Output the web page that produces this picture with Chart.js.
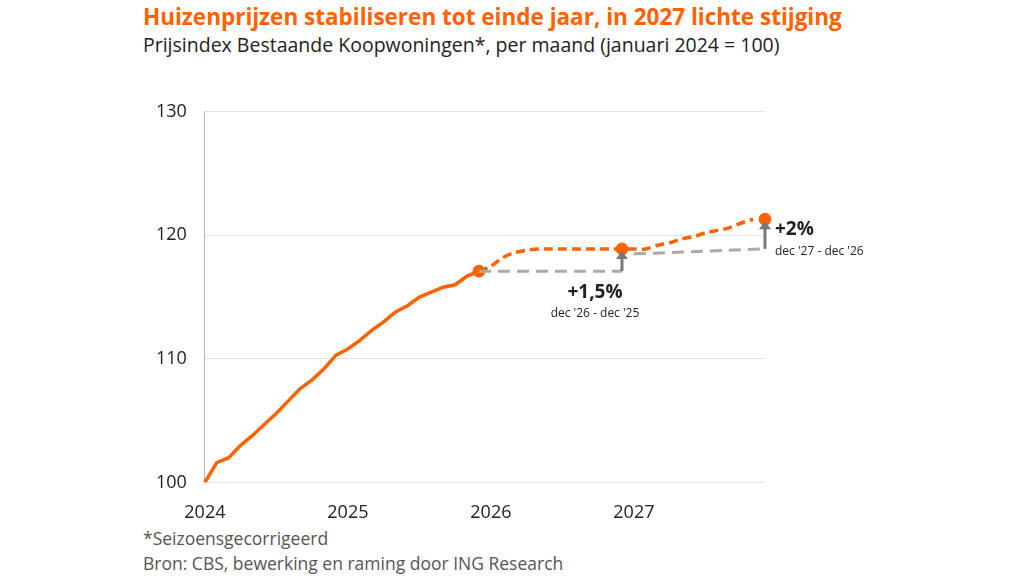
<!DOCTYPE html><html><head><meta charset="utf-8">
<script src="https://cdn.jsdelivr.net/npm/chart.js@4"></script>
<style>
body{margin:0;width:1024px;height:576px;background:#fff;font-family:"Open Sans",sans-serif;position:relative;overflow:hidden}
#t{position:absolute;left:143px;top:1px;color:#ff6200;font-weight:bold;font-size:22.5px}
#s{position:absolute;left:143px;top:31px;color:#222;font-size:19.5px}
#f{position:absolute;left:143px;top:526px;color:#555;font-size:17.5px;line-height:25px}
#w{position:absolute;left:138px;top:83px;width:760px;height:453px}
</style></head><body>
<div id="t">Huizenprijzen stabiliseren tot einde jaar, in 2027 lichte stijging</div>
<div id="s">Prijsindex Bestaande Koopwoningen*, per maand (januari 2024 = 100)</div>
<div id="f">*Seizoensgecorrigeerd<br>Bron: CBS, bewerking en raming door ING Research</div>
<div id="w"><canvas id="c"></canvas></div>
<script>
const yearLabels=["2024","2025","2026","2027"];
const labels=[];for(let i=0;i<48;i++)labels.push(i%12===0?yearLabels[i/12]:"");
const actual=[100,101.6,102,103,103.8,104.7,105.6,106.6,107.6,108.3,109.2,110.3,110.8,111.5,112.3,113,113.8,114.3,115,115.4,115.8,116,116.7,117.1];
const forecast=[117.1,117.5,118.2,118.6,118.8,118.9,118.9,118.9,118.9,118.9,118.9,118.9,118.9,118.9,118.9,119.2,119.4,119.7,119.9,120.2,120.4,120.6,121,121.3];
const base1=[117.1,117.1];const base2=[118.5,118.9];
const dots=[[23,117.1],[35,118.9],[47,121.3]];
const notes=[{i:35,from:117.1,to:118.9,big:"+1,5%",small:"dec '26 - dec '25"},{i:47,from:118.9,to:121.3,big:"+2%",small:"dec '27 - dec '26"}];
const act=labels.map((_,i)=>i<actual.length?actual[i]:null);
const fc=labels.map((_,i)=>i>=23?forecast[i-23]:null);
const b1=labels.map((_,i)=>i===23?base1[0]:i===35?base1[1]:null);
const b2=labels.map((_,i)=>i===36?base2[0]:i===47?base2[1]:null);
const pts=labels.map((_,i)=>{const d=dots.find(d=>d[0]===i);return d?d[1]:null;});
const plug={id:'ann',afterDatasetsDraw(ch){const c=ch.ctx,x=ch.scales.x,y=ch.scales.y;c.save();
notes.forEach((n,k)=>{const px=x.getPixelForValue(n.i),y0=y.getPixelForValue(n.from),y1=y.getPixelForValue(n.to);
c.strokeStyle='#777';c.fillStyle='#777';c.lineWidth=3;c.beginPath();c.moveTo(px,y0);c.lineTo(px,y1+9);c.stroke();
c.beginPath();c.moveTo(px-6,y1+10);c.lineTo(px+6,y1+10);c.lineTo(px,y1+2);c.closePath();c.fill();
c.fillStyle='#222';c.textAlign='left';
if(k===0){c.font='bold 19px "Open Sans"';c.textAlign='center';c.fillText(n.big,px-27,y0+27);c.font='12px "Open Sans"';c.fillText(n.small,px-27,y0+46);}
else{c.font='bold 19px "Open Sans"';c.fillText(n.big,px+10,y1+16);c.font='12px "Open Sans"';c.fillText(n.small,px+10,y1+36);}
});c.restore();}};
new Chart(document.getElementById('c'),{type:'line',data:{labels,datasets:[
{data:b1,borderColor:'#aaa',borderDash:[12,7],borderWidth:3,pointRadius:0,spanGaps:true},
{data:b2,borderColor:'#aaa',borderDash:[12,7],borderWidth:3,pointRadius:0,spanGaps:true},
{data:act,borderColor:'#ff6200',borderWidth:3.5,pointRadius:0,tension:0},
{data:fc,borderColor:'#ff6200',borderDash:[9,5],borderWidth:3.5,pointRadius:0,tension:0.3},
{data:pts,borderColor:'#ff6200',backgroundColor:'#ff6200',pointRadius:6,showLine:false}
]},options:{responsive:true,maintainAspectRatio:false,animation:false,
plugins:{legend:{display:false},tooltip:{enabled:false}},
layout:{padding:{right:133}},
scales:{x:{grid:{display:false},border:{display:false},ticks:{autoSkip:false,maxRotation:0,color:'#222',font:{size:18,family:'Open Sans'},padding:12}},
y:{min:100,max:130,ticks:{stepSize:10,color:'#222',font:{size:18,family:'Open Sans'},padding:18},grid:{color:'#e6e6e6',drawTicks:false},border:{color:'#bbb'}}}}
,plugins:[plug]});
</script></body></html>
